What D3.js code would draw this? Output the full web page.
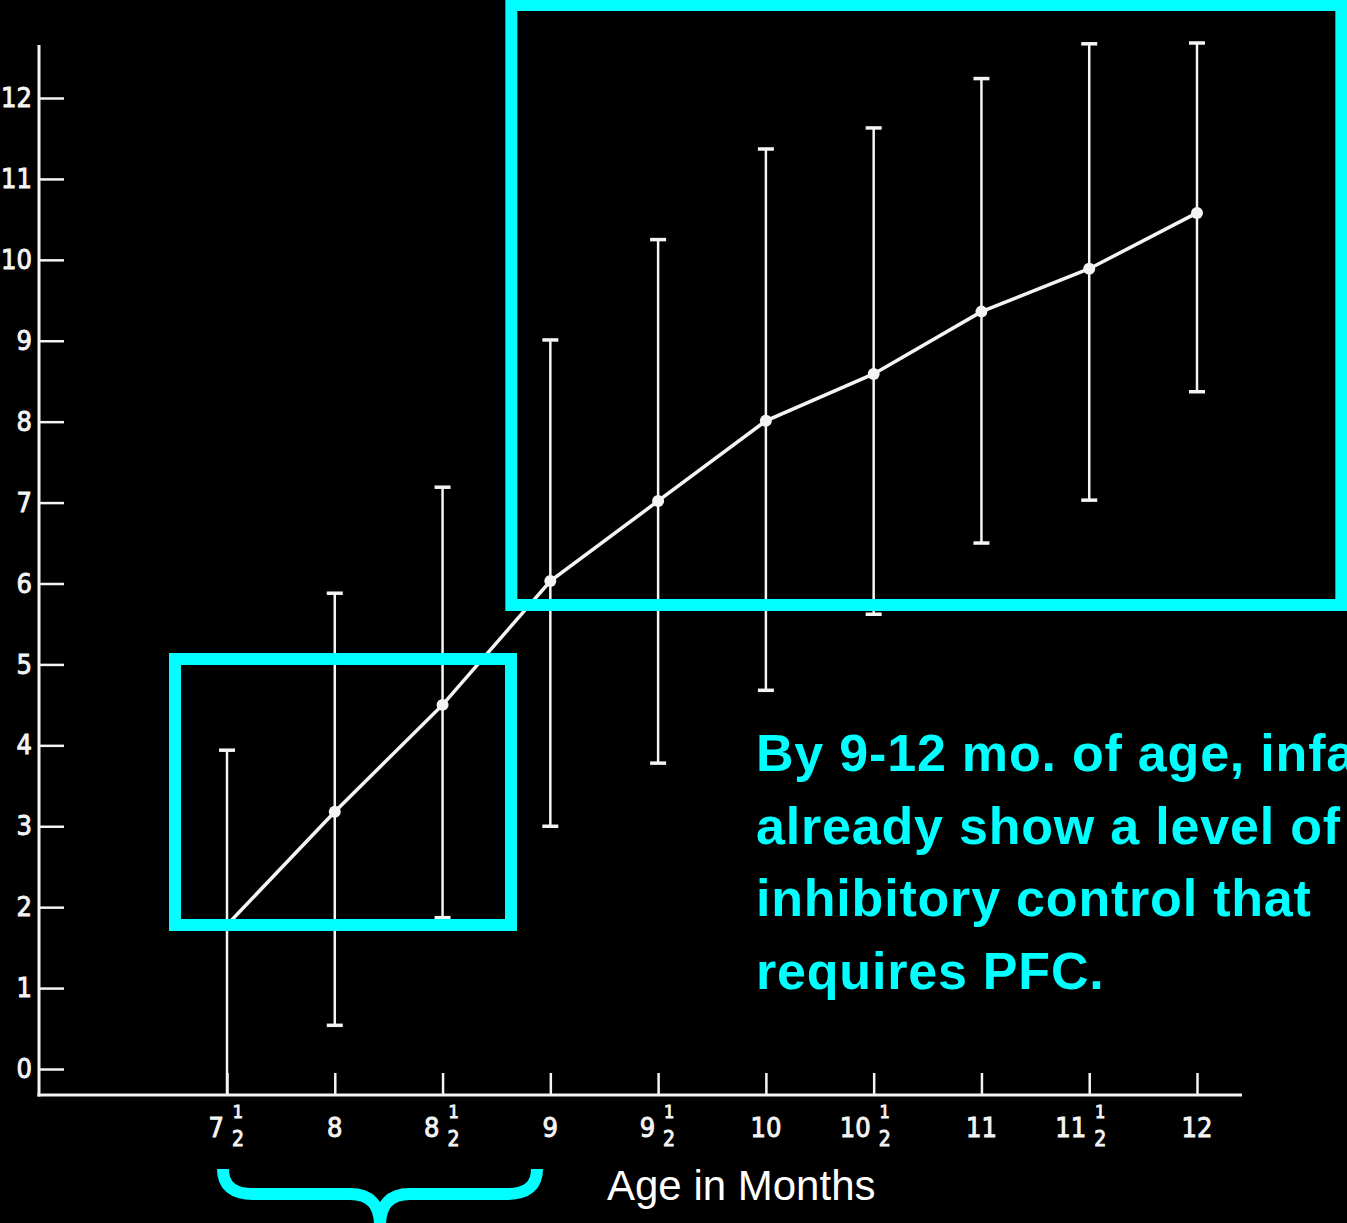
<!DOCTYPE html>
<html>
<head>
<meta charset="utf-8">
<script src="https://cdn.jsdelivr.net/npm/d3@7/dist/d3.min.js"></script>
<style>
  html, body { margin: 0; padding: 0; background: #000; }
  svg { display: block; }
</style>
</head>
<body>
<svg id="chart" width="1347" height="1223"></svg>
<script>
// ---- data ----
const ages     = [7.5, 8, 8.5, 9, 9.5, 10, 10.5, 11, 11.5, 12];
const means    = [1.78, 3.18, 4.5, 6.03, 7.02, 8.01, 8.59, 9.36, 9.89, 10.58];
const upper    = [3.94, 5.88, 7.19, 9.01, 10.25, 11.37, 11.63, 12.24, 12.67, 12.68];
const lower    = [-0.32, 0.54, 1.87, 3.0, 3.78, 4.68, 5.62, 6.5, 7.03, 8.37];
const yTicks   = [0, 1, 2, 3, 4, 5, 6, 7, 8, 9, 10, 11, 12];
const xWhole   = ["7", "8", "8", "9", "9", "10", "10", "11", "11", "12"];
const xHalf    = [true, false, true, false, true, false, true, false, true, false];
const noteLines = ["By 9-12 mo. of age, infants", "already show a level of", "inhibitory control that", "requires PFC."];
const xTitle   = "Age in Months";

const svg = d3.select("#chart");
svg.append("rect").attr("width", 1347).attr("height", 1223).attr("fill", "#000");

const x = d3.scaleLinear().domain([7.5, 12]).range([227, 1197]);
const y = d3.scaleLinear().domain([0, 12]).range([1069, 98]);
const axisY = 1095, axisX = 39;
const yFloor = y.invert(axisY);

const W = "#f4f4f4";
const numFont = "'DejaVu Sans Condensed','DejaVu Sans',sans-serif";
const numStroke = 0.9;

// axes lines
svg.append("line").attr("x1", axisX).attr("x2", axisX).attr("y1", 45).attr("y2", axisY + 1.5)
  .attr("stroke", W).attr("stroke-width", 3);
svg.append("line").attr("x1", axisX - 1.5).attr("x2", 1242).attr("y1", axisY).attr("y2", axisY)
  .attr("stroke", W).attr("stroke-width", 3);

// y axis
const gy = svg.append("g").attr("transform", `translate(${axisX},0)`)
  .call(d3.axisLeft(y).tickValues(yTicks).tickSizeInner(-25).tickSizeOuter(0).tickPadding(7));
gy.select(".domain").remove();
gy.selectAll(".tick line").attr("stroke", W).attr("stroke-width", 2.5);
gy.selectAll(".tick text").attr("fill", W).attr("font-size", 27).attr("font-family", numFont)
  .attr("stroke", W).attr("stroke-width", numStroke);

// x axis ticks
const gx = svg.append("g").attr("transform", `translate(0,${axisY})`)
  .call(d3.axisBottom(x).tickValues(ages).tickSizeInner(-22).tickSizeOuter(0).tickFormat(""));
gx.select(".domain").remove();
gx.selectAll(".tick line").attr("stroke", W).attr("stroke-width", 2.5);

// x labels with fractions
ages.forEach((a, i) => {
  const g = svg.append("g").attr("transform", `translate(${x(a)},0)`)
    .attr("fill", W).attr("font-family", numFont).attr("stroke", W).attr("stroke-width", numStroke);
  if (xHalf[i]) {
    g.append("text").attr("x", -3).attr("y", 1137).attr("text-anchor", "end")
      .attr("font-size", 27).text(xWhole[i]);
    g.append("text").attr("x", 11).attr("y", 1118).attr("text-anchor", "middle")
      .attr("font-size", 18).text("1");
    g.append("text").attr("x", 11).attr("y", 1146).attr("text-anchor", "middle")
      .attr("font-size", 21).text("2");
  } else {
    g.append("text").attr("x", 0).attr("y", 1137).attr("text-anchor", "middle")
      .attr("font-size", 27).text(xWhole[i]);
  }
});

// error bars
const data = ages.map((a, i) => ({ a, m: means[i], hi: upper[i], lo: lower[i] }));
const eb = svg.append("g");
data.forEach(d => {
  eb.append("line").attr("x1", x(d.a)).attr("x2", x(d.a)).attr("y1", y(d.hi)).attr("y2", y(Math.max(d.lo, yFloor)))
    .attr("stroke", W).attr("stroke-width", 2.5);
  eb.append("line").attr("x1", x(d.a) - 8).attr("x2", x(d.a) + 8).attr("y1", y(d.hi)).attr("y2", y(d.hi))
    .attr("stroke", W).attr("stroke-width", 3.5);
  if (d.lo > yFloor + 0.05) {
    eb.append("line").attr("x1", x(d.a) - 8).attr("x2", x(d.a) + 8).attr("y1", y(d.lo)).attr("y2", y(d.lo))
      .attr("stroke", W).attr("stroke-width", 3.5);
  }
});

// mean line
svg.append("path").datum(data)
  .attr("d", d3.line().x(d => x(d.a)).y(d => y(d.m)))
  .attr("fill", "none").attr("stroke", W).attr("stroke-width", 3.5);
svg.append("g").selectAll("circle").data(data).join("circle")
  .attr("cx", d => x(d.a)).attr("cy", d => y(d.m)).attr("r", 6).attr("fill", W);

// cyan boxes
const C = "#00ffff";
svg.append("rect").attr("x", x(9) - 39).attr("y", 5).attr("width", 830).attr("height", 600)
  .attr("fill", "none").attr("stroke", C).attr("stroke-width", 12);
svg.append("rect").attr("x", x(7.5) - 52).attr("y", 659).attr("width", 336).attr("height", 266)
  .attr("fill", "none").attr("stroke", C).attr("stroke-width", 12);

// brace
const bx0 = 223, bx1 = 537, bc = (bx0 + bx1) / 2, bt = 1169, bm = 1194;
svg.append("path")
  .attr("d", `M${bx0},${bt} Q${bx0},${bm} ${bx0 + 30},${bm} L${bc - 30},${bm} Q${bc},${bm} ${bc},${bm + 32}` +
             ` M${bx1},${bt} Q${bx1},${bm} ${bx1 - 30},${bm} L${bc + 30},${bm} Q${bc},${bm} ${bc},${bm + 32}`)
  .attr("fill", "none").attr("stroke", C).attr("stroke-width", 12);

// annotation text
const note = svg.append("text").attr("fill", C).attr("font-family", "'Liberation Sans', Arial, sans-serif")
  .attr("font-weight", "bold").attr("font-size", 52).attr("letter-spacing", 0.8);
noteLines.forEach((t, i) => {
  note.append("tspan").attr("x", 756).attr("y", 771 + i * 72.5).text(t);
});

// x title
svg.append("text").attr("x", 607).attr("y", 1200).attr("fill", "#fff")
  .attr("font-family", "'Liberation Sans', Arial, sans-serif").attr("font-size", 42).text(xTitle);
</script>
</body>
</html>
